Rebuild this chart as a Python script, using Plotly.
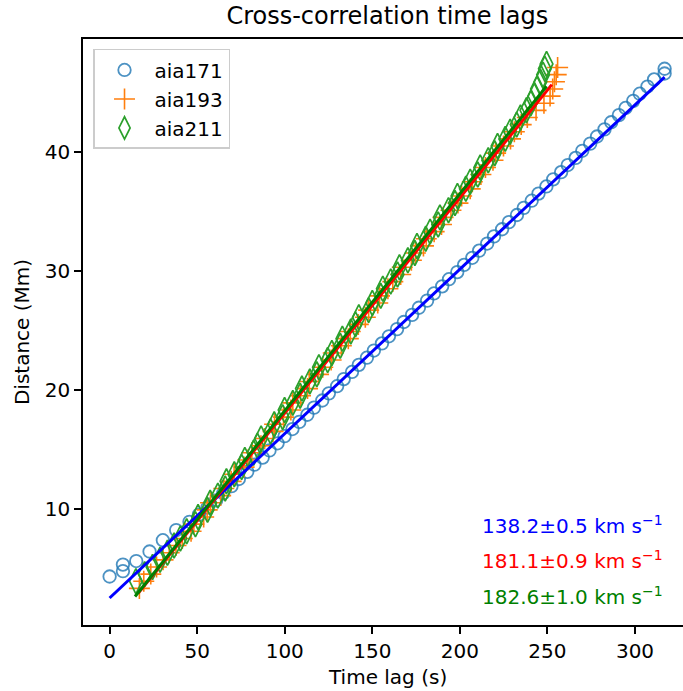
import plotly.graph_objects as go

# ---------------- data ----------------
aia171_x = [0.0, 7.6, 7.6, 15.2, 22.8, 30.4, 38.0, 45.6, 51.0, 55.9, 60.8, 64.9, 69.6, 73.8,
            78.6, 82.7, 87.4, 91.3, 95.9, 99.9, 104.4, 108.3, 112.9, 116.7, 121.4, 125.2,
            129.9, 133.7, 138.4, 142.3, 146.9, 150.9, 155.5, 159.5, 164.1, 168.0, 172.7,
            176.6, 181.3, 185.2, 189.9, 193.8, 198.5, 202.4, 207.1, 211.0, 215.6, 219.5,
            224.1, 228.0, 232.6, 236.5, 241.0, 244.9, 249.4, 253.3, 257.8, 261.6, 266.1,
            269.9, 274.4, 278.3, 282.6, 286.4, 290.8, 294.6, 299.0, 302.7, 307.1, 310.9,
            316.9, 316.9]
aia171_y = [4.3, 4.75, 5.3, 5.6, 6.4, 7.35, 8.2, 8.9, 9.5, 10.1, 10.7, 11.3, 11.9, 12.5,
            13.1, 13.7, 14.3, 14.9, 15.5, 16.1, 16.7, 17.3, 17.9, 18.5, 19.1, 19.7, 20.3,
            20.9, 21.5, 22.1, 22.7, 23.3, 23.9, 24.5, 25.1, 25.7, 26.3, 26.9, 27.5, 28.1,
            28.7, 29.3, 29.9, 30.5, 31.1, 31.7, 32.3, 32.9, 33.5, 34.1, 34.7, 35.3, 35.9,
            36.5, 37.1, 37.7, 38.3, 38.9, 39.5, 40.1, 40.7, 41.3, 41.9, 42.5, 43.1, 43.7,
            44.3, 44.9, 45.5, 46.1, 46.6, 47.0]

aia193_x = [17.0, 19.5, 23.5, 26.8, 30.5, 34.0, 37.9, 41.5, 46.5, 48.1, 53.7, 55.7, 57.6,
            63.4, 65.2, 69.4, 71.1, 76.8, 78.9, 81.2, 86.4, 88.5, 93.3, 94.2, 99.3, 103.5,
            104.6, 109.0, 113.0, 114.0, 119.3, 121.7, 126.5, 127.7, 132.3, 136.3, 137.4,
            142.0, 146.0, 147.9, 153.1, 154.1, 158.9, 161.7, 166.2, 167.1, 172.3, 174.6,
            179.2, 180.8, 185.3, 189.5, 190.4, 194.9, 198.9, 201.0, 205.9, 207.1, 212.0,
            214.6, 218.9, 220.4, 224.9, 228.9, 231.1, 235.0, 238.5, 243.5, 248.0, 251.5,
            253.0, 254.0, 255.0, 255.8]
aia193_y = [3.3, 3.9, 4.5, 5.1, 5.7, 6.3, 6.9, 7.5, 8.1, 8.7, 9.3, 9.9, 10.5, 11.1, 11.7,
            12.3, 12.9, 13.5, 14.1, 14.7, 15.3, 15.9, 16.5, 17.1, 17.7, 18.3, 18.9, 19.5,
            20.1, 20.7, 21.3, 21.9, 22.5, 23.1, 23.7, 24.3, 24.9, 25.5, 26.1, 26.7, 27.3,
            27.9, 28.5, 29.1, 29.7, 30.3, 30.9, 31.5, 32.1, 32.7, 33.3, 33.9, 34.5, 35.1,
            35.7, 36.3, 36.9, 37.5, 38.1, 38.7, 39.3, 39.9, 40.5, 41.1, 41.7, 42.3, 42.9,
            43.5, 44.1, 44.7, 45.3, 45.9, 46.5, 47.1]

aia211_x = [15.0, 20.0, 24.5, 28.8, 33.0, 36.8, 40.4, 44.0, 49.0, 50.5, 55.9, 57.4, 61.8,
            66.0, 66.7, 71.2, 75.4, 77.2, 82.2, 84.4, 86.5, 91.9, 94.0, 98.8, 99.9, 104.6,
            108.8, 109.8, 114.3, 118.3, 119.5, 124.5, 126.9, 131.7, 132.9, 137.7, 140.4,
            142.3, 147.9, 150.0, 154.8, 156.0, 160.5, 164.4, 165.5, 170.3, 174.3, 175.5,
            180.5, 183.0, 187.6, 188.6, 193.5, 197.2, 198.6, 203.4, 205.9, 210.2, 211.6,
            216.2, 219.9, 221.5, 225.9, 228.7, 232.4, 234.6, 238.0, 240.5, 242.5, 244.0,
            246.0, 247.5, 248.5, 249.5]
aia211_y = [3.9, 4.5, 5.1, 5.7, 6.3, 6.9, 7.5, 8.1, 8.7, 9.3, 9.9, 10.5, 11.1, 11.7, 12.3,
            12.9, 13.5, 14.1, 14.7, 15.3, 15.9, 16.5, 17.1, 17.7, 18.3, 18.9, 19.5, 20.1,
            20.7, 21.3, 21.9, 22.5, 23.1, 23.7, 24.3, 24.9, 25.5, 26.1, 26.7, 27.3, 27.9,
            28.5, 29.1, 29.7, 30.3, 30.9, 31.5, 32.1, 32.7, 33.3, 33.9, 34.5, 35.1, 35.7,
            36.3, 36.9, 37.5, 38.1, 38.7, 39.3, 39.9, 40.5, 41.1, 41.7, 42.3, 42.9, 43.5,
            44.1, 44.7, 45.3, 45.9, 46.5, 47.0, 47.4]

# linear fits (end points of the fitted lines)
fit171_x = [0.0, 316.9]
fit171_y = [2.49, 46.3]
fit193_x = [16.4, 252.5]
fit193_y = [2.9, 45.66]
fit211_x = [14.5, 249.5]
fit211_y = [2.62, 45.53]

speed_labels = ["138.2±0.5 km s<sup>−1</sup>",
                "181.1±0.9 km s<sup>−1</sup>",
                "182.6±1.0 km s<sup>−1</sup>"]
speed_colors = ["blue", "red", "green"]

x_ticks = [0, 50, 100, 150, 200, 250, 300]
y_ticks = [10, 20, 30, 40]

FONT = "DejaVu Sans"
W, H = 683, 691

fig = go.Figure()
fig.add_trace(go.Scatter(x=aia171_x, y=aia171_y, mode="markers", name="aia171",
                         marker=dict(symbol="circle-open", size=12.5, color="#1f77b4",
                                     opacity=0.8, line=dict(width=1.8, color="#1f77b4"))))
fig.add_trace(go.Scatter(x=aia193_x, y=aia193_y, mode="markers", name="aia193",
                         marker=dict(symbol="cross-thin-open", size=15, color="#ff7f0e",
                                     line=dict(width=1.6, color="#ff7f0e"))))
fig.add_trace(go.Scatter(x=aia211_x, y=aia211_y, mode="markers", name="aia211",
                         marker=dict(symbol="diamond-tall-open", size=18, color="#2ca02c",
                                     line=dict(width=1.7, color="#2ca02c"))))
for fx, fy, c in [(fit171_x, fit171_y, "blue"), (fit193_x, fit193_y, "red"),
                  (fit211_x, fit211_y, "green")]:
    fig.add_trace(go.Scatter(x=fx, y=fy, mode="lines", showlegend=False,
                             line=dict(color=c, width=3)))

ann_y = [0.1712, 0.1114, 0.0488]
for txt, col, yy in zip(speed_labels, speed_colors, ann_y):
    fig.add_annotation(x=0.6619, y=yy, xref="paper", yref="paper", text=txt,
                       showarrow=False, xanchor="left", yanchor="middle",
                       font=dict(family=FONT, size=20, color=col))

# axis titles
fig.add_annotation(x=0.5074, y=-0.0882, xref="paper", yref="paper", text="Time lag (s)",
                   showarrow=False, xanchor="center", yanchor="middle",
                   font=dict(family=FONT, size=20, color="black"))
fig.add_annotation(x=-0.1016, y=0.5, xref="paper", yref="paper", text="Distance (Mm)",
                   showarrow=False, xanchor="center", yanchor="middle", textangle=-90,
                   font=dict(family=FONT, size=20, color="black"))

fig.update_layout(
    width=W, height=H,
    margin=dict(l=83, r=0, t=39, b=66),
    paper_bgcolor="white", plot_bgcolor="white",
    font=dict(family=FONT, size=20, color="black"),
    title=dict(text="Cross-correlation time lags", x=387.3 / W, xanchor="center",
               y=1 - 15.5 / H, yanchor="middle", yref="container",
               font=dict(family=FONT, size=24, color="black")),
    showlegend=True,
    legend=dict(x=0.0167, y=0.983, xanchor="left", yanchor="top",
                bgcolor="white", bordercolor="#cccccc", borderwidth=1.5,
                font=dict(family=FONT, size=20, color="black"),
                itemsizing="trace", itemwidth=50, tracegroupgap=0),
    xaxis=dict(range=[-15.2, 327.4], tickvals=x_ticks, showgrid=False, zeroline=False,
               showline=True, linecolor="black", linewidth=1.5, mirror=True,
               ticks="outside", ticklen=7, tickwidth=1.5, tickcolor="black",
               tickfont=dict(family=FONT, size=20, color="black")),
    yaxis=dict(range=[0.22, 49.5], tickvals=y_ticks, showgrid=False, zeroline=False,
               showline=True, linecolor="black", linewidth=1.5, mirror=False,
               ticks="outside", ticklen=7, tickwidth=1.5, tickcolor="black",
               tickfont=dict(family=FONT, size=20, color="black")),
)

# remove the browser's default 8px page margin so the figure fills the window exactly
fig.write_html("out.html",
               config={"displayModeBar": False},
               post_script="document.body.style.margin='0';document.body.style.overflow='hidden';")
